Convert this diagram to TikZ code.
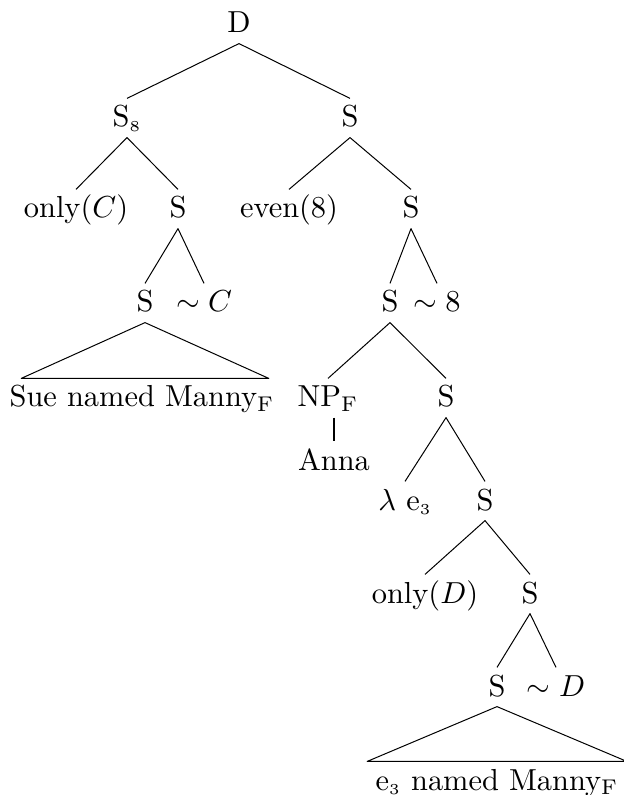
\documentclass[tikz,border=0pt]{standalone}
\usetikzlibrary{calc}
\begin{document}
\begin{tikzpicture}[x=0.5pt,y=-0.5pt,
  every node/.style={font=\normalsize, scale=1.52, anchor=base,
    inner xsep=0.6pt, inner ysep=2.38pt, text height=6.83pt, text depth=0.91pt},
  branch/.style={line width=0.5pt, line join=round},
  stem/.style={line width=1pt}]
\useasboundingbox (0,0) rectangle (624,795);
% nodes
\node (D) at (239,33) {D};
\node (S8) at (127,127) {S$_{\scriptscriptstyle 8}$};
\node (Sr) at (350,127) {S};
\node (onlyC) at (76,218) {only$(C)$};
\node (Sa) at (178,218) {S};
\node (even8) at (289,218) {even$(8)$};
\node (Sb) at (411,218) {S};
\node (Sc) at (145,312) {S};
\node (simC) at (204,312) {$\sim C$};
\node (Sd) at (390,312) {S};
\node (sim8) at (437,312) {$\sim 8$};
\node (sue) at (142,407) {Sue named Manny$_{\mathrm{F}}$};
\node (NPF) at (328,407) {NP$_{\mathrm{F}}$};
\node (Se) at (446,407) {S};
\node (anna) at (334,470) {Anna};
\node (lam) at (405,510) {$\lambda$ e$_{\scriptscriptstyle 3}$};
\node (Sf) at (485,510) {S};
\node (onlyD) at (425,603) {only$(D)$};
\node (Sg) at (530,603) {S};
\node (Sh) at (497,696) {S};
\node (simD) at (556,696) {$\sim D$};
\node (e3) at (497,790) {e$_{\scriptscriptstyle 3}$ named Manny$_{\mathrm{F}}$};
% branches
\draw[branch] (S8.north) -- (D.south) -- (Sr.north);
\draw[branch] (onlyC.north) -- (S8.south) -- (Sa.north);
\draw[branch] (even8.north) -- (Sr.south) -- (Sb.north);
\draw[branch] (Sc.north) -- (Sa.south) -- (simC.north);
\draw[branch] (Sd.north) -- (Sb.south) -- (sim8.north);
\draw[branch] (Sc.south) -- ($(sue.north west)+(14,0)$) -- ($(sue.north east)+(-8,0)$) -- cycle;
\draw[branch] (NPF.north) -- (Sd.south) -- (Se.north);
\draw[stem] (anna.north |- NPF.south) -- (anna.north);
\draw[branch] (lam.north) -- (Se.south) -- (Sf.north);
\draw[branch] (onlyD.north) -- (Sf.south) -- (Sg.north);
\draw[branch] (Sh.north) -- (Sg.south) -- (simD.north);
\draw[branch] (Sh.south) -- ($(e3.north west)+(-6,0)$) -- ($(e3.north east)+(6,0)$) -- cycle;
\end{tikzpicture}
\end{document}
